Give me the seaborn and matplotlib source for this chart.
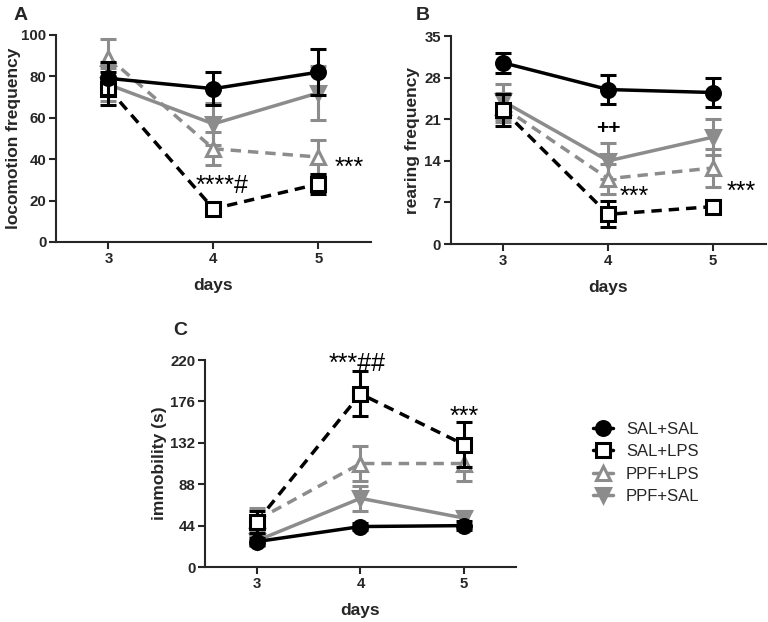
import matplotlib
matplotlib.use('Agg')
import matplotlib.pyplot as plt
import seaborn as sns
import pandas as pd
from matplotlib.lines import Line2D

sns.set_theme(style="ticks")
plt.rcParams['font.family'] = ['Liberation Sans', 'DejaVu Sans']

days = [3, 4, 5]
groups = ['SAL+SAL', 'SAL+LPS', 'PPF+LPS', 'PPF+SAL']

# mean and SEM per group (rows follow groups), days 3-5
loco_mean = [[79, 74, 82], [74, 16, 28], [89, 45, 41], [76, 57, 72]]
loco_sem = [[8, 8, 11], [8, 2, 5], [9, 8, 8], [8, 10, 13]]
rear_mean = [[30.5, 26, 25.5], [22.5, 5, 6.3], [23, 11, 12.8], [24, 14, 18]]
rear_sem = [[1.7, 2.5, 2.5], [2.7, 2.2, 1.1], [2.5, 2.5, 3.2], [3, 3, 3]]
immo_mean = [[27, 43, 44], [48, 184, 130], [50, 110, 110], [28, 73, 52]]
immo_sem = [[4, 4, 5], [12, 24, 24], [13, 19, 19], [6, 13, 8]]

GRAY = '#8c8c8c'
styles = {
    'SAL+SAL': dict(color='black', marker='o', mfc='black', ls='-', z=5),
    'SAL+LPS': dict(color='black', marker='s', mfc='white', ls='--', z=4),
    'PPF+LPS': dict(color=GRAY, marker='^', mfc='white', ls='--', z=3),
    'PPF+SAL': dict(color=GRAY, marker='v', mfc=GRAY, ls='-', z=2),
}


def draw_panel(ax, means, sems, ylim, yticks, ylabel, ylab_x):
    for g, m, s in zip(groups, means, sems):
        st = styles[g]
        df = pd.DataFrame({'day': days, 'value': m})
        ax.errorbar(days, m, yerr=s, fmt='none', ecolor=st['color'],
                    elinewidth=2.2, capsize=6, capthick=2.2, zorder=st['z'])
        sns.lineplot(data=df, x='day', y='value', ax=ax, errorbar=None,
                     color=st['color'], linestyle=st['ls'], linewidth=2.5,
                     marker=st['marker'], markersize=10,
                     markerfacecolor=st['mfc'], markeredgecolor=st['color'],
                     markeredgewidth=2.2, zorder=st['z'])
        if st['ls'] == '--':
            ax.lines[-1].set_dashes((3, 2))
    ax.set_xlim(2.5, 5.5)
    ax.set_ylim(*ylim)
    ax.set_xticks(days)
    ax.set_yticks(yticks)
    ax.set_xlabel('days', fontsize=12.5, fontweight='bold', labelpad=9)
    ax.set_ylabel(ylabel, fontsize=12.5, fontweight='bold')
    ax.yaxis.set_label_coords(ylab_x, 0.5)
    for lab in ax.get_xticklabels() + ax.get_yticklabels():
        lab.set_fontweight('bold')
        lab.set_fontsize(10.8)
    ax.tick_params(width=1.5, length=5, pad=2)
    sns.despine(ax=ax)
    for sp in ax.spines.values():
        sp.set_linewidth(1.5)


fig = plt.figure(figsize=(7.68, 6.22), dpi=100)
axA = fig.add_axes([0.0729, 0.611, 0.41, 0.333])
axB = fig.add_axes([0.587, 0.6077, 0.41, 0.3343])
axC = fig.add_axes([0.2669, 0.0884, 0.405, 0.3328])

draw_panel(axA, loco_mean, loco_sem, (0, 100), [0, 20, 40, 60, 80, 100],
           'locomotion frequency', -0.111)
draw_panel(axB, rear_mean, rear_sem, (0, 35), [0, 7, 14, 21, 28, 35],
           'rearing frequency', -0.098)
draw_panel(axC, immo_mean, immo_sem, (0, 220), [0, 44, 88, 132, 176, 220],
           'immobility (s)', -0.122)

# significance marks
tk = dict(fontsize=18, color='black')
axA.text(4.08, 27, '****#', ha='center', va='center', **tk)
axA.text(5.29, 36, '***', ha='center', va='center', **tk)
axB.text(4.0, 19.4, '++', ha='center', va='center', fontsize=15,
         fontweight='bold', color='black')
axB.text(4.25, 8.0, '***', ha='center', va='center', **tk)
axB.text(5.27, 8.7, '***', ha='center', va='center', **tk)
axC.text(3.97, 216, '***##', ha='center', va='center', **tk)
axC.text(5.0, 160, '***', ha='center', va='center', **tk)

# panel letters
fig.text(0.018, 0.975, 'A', fontsize=14, fontweight='bold', va='center')
fig.text(0.541, 0.975, 'B', fontsize=14, fontweight='bold', va='center')
fig.text(0.225, 0.468, 'C', fontsize=14, fontweight='bold', va='center')

handles = []
for g in groups:
    st = styles[g]
    h = Line2D([], [], color=st['color'], linestyle='-', linewidth=2.5,
               marker=st['marker'], markersize=10, markerfacecolor=st['mfc'],
               markeredgecolor=st['color'], markeredgewidth=2.2)
    handles.append(h)
fig.legend(handles, groups, loc='upper left', bbox_to_anchor=(0.752, 0.346),
           frameon=False, fontsize=12, handlelength=1.2, labelspacing=0.45,
           handletextpad=0.8)

fig.savefig('out.png', dpi=100)
